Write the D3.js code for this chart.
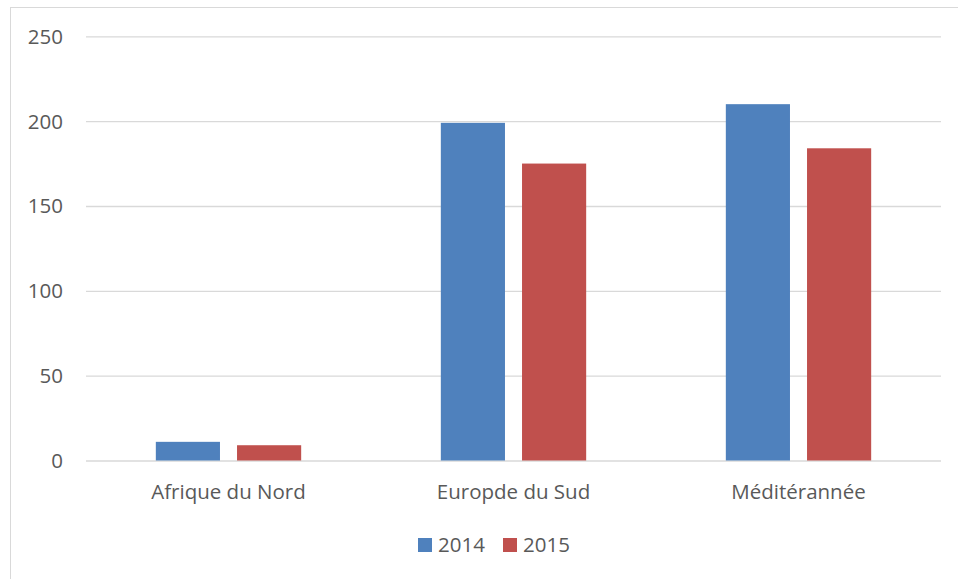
<!DOCTYPE html>
<html><head><meta charset="utf-8">
<script src="https://cdn.jsdelivr.net/npm/d3@7"></script>
<style>body{margin:0;background:#fff}svg{display:block}text{font-family:"Open Sans","Liberation Sans",sans-serif;fill:#595959}</style>
</head><body><svg id="c" width="958" height="579"></svg>
<script>
const categories = ["Afrique du Nord", "Europde du Sud", "Méditérannée"];
const seriesNames = ["2014", "2015"];
const values2014 = [11, 199, 210];
const values2015 = [9, 175, 184];
const yTicks = [0, 50, 100, 150, 200, 250];
const colors = ["#4f81bd", "#c0504d"];

(function(){
const FS = 20.5;
const svg = d3.select("#c");
svg.append("rect").attr("x",10.5).attr("y",7.5).attr("width",1200).attr("height",1200)
  .attr("fill","#fff").attr("stroke","#d9d9d9").attr("stroke-width",1);

const pLeft=86, pRight=941, pTop=36.3, pBottom=460.5;
const y = d3.scaleLinear().domain([0,250]).range([pBottom, pTop]);
const x0 = d3.scaleBand().domain(categories).range([pLeft,pRight]).paddingInner(0.49).paddingOuter(0.245);
const x1 = d3.scaleBand().domain(seriesNames).range([0,x0.bandwidth()]).paddingInner(0.21);

const yAxis = d3.axisLeft(y).tickValues(yTicks).tickSize(-(pRight-pLeft)).tickPadding(23);
const ga = svg.append("g").attr("transform",`translate(${pLeft},0)`).call(yAxis);
ga.select(".domain").remove();
ga.selectAll(".tick line").attr("stroke","#d9d9d9").attr("stroke-width",1.3);
ga.selectAll(".tick text").attr("font-size",FS).attr("dy","0.34em").style("fill","#595959");

const data = categories.map((c,i)=>({c, v:[values2014[i], values2015[i]]}));
const g = svg.append("g");
data.forEach(d=>{
  seriesNames.forEach((s,j)=>{
    g.append("rect").attr("x",x0(d.c)+x1(s)).attr("width",x1.bandwidth())
      .attr("y",y(d.v[j])).attr("height",y(0)-y(d.v[j])).attr("fill",colors[j]);
  });
});

const xAxis = d3.axisBottom(x0).tickSize(0).tickPadding(38.5);
const gx = svg.append("g").attr("transform",`translate(0,${pBottom})`).call(xAxis);
gx.select(".domain").remove();
gx.selectAll(".tick text").attr("font-size",FS).attr("dy","0").style("fill","#595959");

const leg = svg.append("g");
const legX=[418,503];
seriesNames.forEach((s,j)=>{
  leg.append("rect").attr("x",legX[j]).attr("y",538).attr("width",14).attr("height",14).attr("fill",colors[j]);
  leg.append("text").attr("x",legX[j]+20).attr("y",552).attr("font-size",FS).text(s);
});
})();
</script></body></html>
